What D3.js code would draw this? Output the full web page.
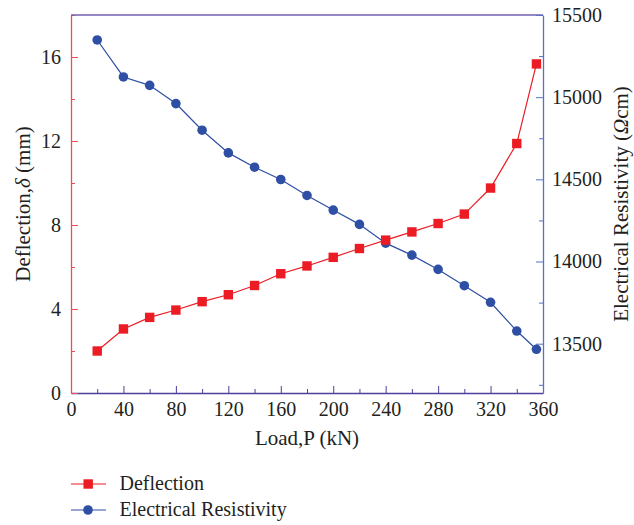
<!DOCTYPE html>
<html>
<head>
<meta charset="utf-8">
<script src="https://cdn.jsdelivr.net/npm/d3@7"></script>
<style>
  body { margin: 0; background: #fff; }
  text { font-family: "Liberation Serif", "DejaVu Serif", serif; fill: #231f20; }
</style>
</head>
<body>
<div id="chart"></div>
<script>
var loads = [20, 40, 60, 80, 100, 120, 140, 160, 180, 200, 220, 240, 260, 280, 300, 320, 340, 355];
var deflection = [2.0, 3.05, 3.6, 3.95, 4.35, 4.68, 5.12, 5.68, 6.05, 6.46, 6.88, 7.28, 7.67, 8.07, 8.52, 9.76, 11.88, 15.67];
var resistivity = [15348, 15123, 15072, 14961, 14799, 14661, 14574, 14499, 14402, 14313, 14226, 14112, 14039, 13952, 13853, 13752, 13577, 13466];
var xTicks = [0, 40, 80, 120, 160, 200, 240, 280, 320, 360];
var leftTicks = [0, 4, 8, 12, 16];
var rightTicks = [13500, 14000, 14500, 15000, 15500];

var redC = "#ec1c24", blueC = "#2e4fa3";

var svg = d3.select("#chart").append("svg")
    .attr("width", 634)
    .attr("height", 525);

var margin = {top: 15, right: 91, bottom: 132, left: 71};
var width = 634 - margin.left - margin.right;
var height = 525 - margin.top - margin.bottom;

var g = svg.append("g")
    .attr("transform", "translate(" + margin.left + "," + margin.top + ")");

var x = d3.scaleLinear().domain([0, 360]).range([0, width]);
var yL = d3.scaleLinear().domain([0, 18]).range([height, 0]);
var yR = d3.scaleLinear().domain([13200, 15500]).range([height, 0]);

// minor ticks first
g.append("g")
    .attr("transform", "translate(0," + height + ")")
    .call(d3.axisBottom(x).tickValues(d3.range(20, 360, 40)).tickSizeInner(-4).tickSizeOuter(0).tickFormat(""))
    .call(function(s) { s.select(".domain").remove(); s.selectAll("line").attr("stroke", "#4f3e9c"); });
g.append("g")
    .call(d3.axisLeft(yL).tickValues([2, 6, 10, 14, 18]).tickSizeInner(-4).tickSizeOuter(0).tickFormat(""))
    .call(function(s) { s.select(".domain").remove(); s.selectAll("line").attr("stroke", "#ef4b55"); });
g.append("g")
    .attr("transform", "translate(" + width + ",0)")
    .call(d3.axisRight(yR).tickValues([13250, 13750, 14250, 14750, 15250]).tickSizeInner(-4).tickSizeOuter(0).tickFormat(""))
    .call(function(s) { s.select(".domain").remove(); s.selectAll("line").attr("stroke", "#5672c0"); });

// top border
g.append("line")
    .attr("x1", 0).attr("x2", width).attr("y1", 0).attr("y2", 0)
    .attr("stroke", "#7360b0").attr("stroke-width", 1.3);

var xAxis = g.append("g")
    .attr("transform", "translate(0," + height + ")")
    .call(d3.axisBottom(x).tickValues(xTicks).tickSizeInner(-7).tickSizeOuter(0).tickPadding(9));
xAxis.select(".domain").attr("stroke", "#4f3e9c").attr("stroke-width", 1.3);
xAxis.selectAll("line").attr("stroke", "#4f3e9c");
xAxis.selectAll("text").style("font-size", "20px").attr("fill", "#231f20");

var lAxis = g.append("g")
    .call(d3.axisLeft(yL).tickValues(leftTicks).tickSizeInner(-7).tickSizeOuter(0).tickPadding(10));
lAxis.select(".domain").attr("stroke", "#ef4b55").attr("stroke-width", 1.3);
lAxis.selectAll("line").attr("stroke", "#ef4b55");
lAxis.selectAll("text").style("font-size", "20px").attr("fill", "#231f20");

var rAxis = g.append("g")
    .attr("transform", "translate(" + width + ",0)")
    .call(d3.axisRight(yR).tickValues(rightTicks).tickFormat(d3.format("d")).tickSizeInner(-7).tickSizeOuter(0).tickPadding(9));
rAxis.select(".domain").attr("stroke", "#5672c0").attr("stroke-width", 1.3);
rAxis.selectAll("line").attr("stroke", "#5672c0");
rAxis.selectAll("text").style("font-size", "20px").attr("fill", "#231f20");

// series
var lineL = d3.line().x(function(d, i) { return x(loads[i]); }).y(function(d) { return yL(d); });
var lineR = d3.line().x(function(d, i) { return x(loads[i]); }).y(function(d) { return yR(d); });

g.append("path").datum(resistivity)
    .attr("d", lineR).attr("fill", "none").attr("stroke", blueC).attr("stroke-width", 1.2);
g.selectAll(".pt-r").data(resistivity).enter().append("circle")
    .attr("class", "pt-r")
    .attr("cx", function(d, i) { return x(loads[i]); })
    .attr("cy", function(d) { return yR(d); })
    .attr("r", 4.8)
    .attr("fill", blueC);

g.append("path").datum(deflection)
    .attr("d", lineL).attr("fill", "none").attr("stroke", redC).attr("stroke-width", 1.2);
g.selectAll(".pt-d").data(deflection).enter().append("rect")
    .attr("class", "pt-d")
    .attr("x", function(d, i) { return x(loads[i]) - 4.7; })
    .attr("y", function(d) { return yL(d) - 4.7; })
    .attr("width", 9.4).attr("height", 9.4)
    .attr("fill", redC);

// axis titles
svg.append("text")
    .attr("x", margin.left + width / 2)
    .attr("y", 445)
    .attr("text-anchor", "middle")
    .style("font-size", "21px")
    .text("Load,P (kN)");

svg.append("text")
    .attr("transform", "translate(30," + (margin.top + height / 2) + ") rotate(-90)")
    .attr("text-anchor", "middle")
    .style("font-size", "21px")
    .html("Deflection,<tspan font-style='italic'>δ</tspan> (mm)");

svg.append("text")
    .attr("transform", "translate(628," + (margin.top + height / 2) + ") rotate(-90)")
    .attr("text-anchor", "middle")
    .style("font-size", "21px")
    .html("Electrical Resistivity (<tspan font-style='italic'>Ω</tspan>cm)");

// legend
var legend = svg.append("g").attr("transform", "translate(71,484)");
var items = [{name: "Deflection", color: redC, shape: "square"},
             {name: "Electrical Resistivity", color: blueC, shape: "circle"}];
items.forEach(function(it, i) {
  var row = legend.append("g").attr("transform", "translate(0," + (i * 26) + ")");
  row.append("line").attr("x1", 0).attr("x2", 35).attr("stroke", it.color).attr("stroke-width", 1.2);
  if (it.shape === "square") {
    row.append("rect").attr("x", 12.5).attr("y", -4.7).attr("width", 9.4).attr("height", 9.4).attr("fill", it.color);
  } else {
    row.append("circle").attr("cx", 17).attr("r", 4.8).attr("fill", it.color);
  }
  row.append("text").attr("x", 48.5).attr("y", 6).style("font-size", "20px").text(it.name);
});
</script>
</body>
</html>
